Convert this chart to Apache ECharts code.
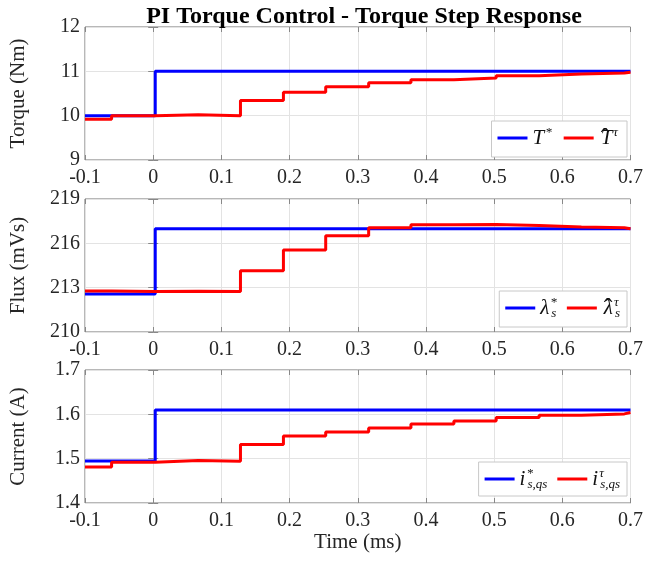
<!DOCTYPE html>
<html><head><meta charset="utf-8">
<script src="https://cdn.jsdelivr.net/npm/echarts@6/dist/echarts.min.js"></script>
<style>html,body{margin:0;padding:0;background:#fff}#c{width:646px;height:564px}</style>
</head><body><div id="c"></div>
<script>
// sample instants (ms) at which the discrete values change
const estTime = [-0.1, -0.061, 0.003, 0.066, 0.128, 0.191, 0.253, 0.316, 0.378, 0.441, 0.503, 0.566, 0.628, 0.691, 0.7];
const refTime = [-0.1, 0.003, 0.7];
const torqueRef = [10.0, 11.0, 11.0];
const torqueEst = [9.92, 10.0, 10.02, 10.0, 10.34, 10.53, 10.65, 10.74, 10.81, 10.85, 10.9, 10.94, 10.96, 10.98, 10.98];
const fluxRef = [212.57, 216.98, 216.98];
const fluxEst = [212.77, 212.74, 212.75, 212.74, 214.14, 215.55, 216.52, 217.05, 217.25, 217.27, 217.2, 217.1, 217.05, 216.98, 216.98];
const currentRef = [1.4946, 1.6100, 1.6100];
const currentEst = [1.481, 1.492, 1.496, 1.494, 1.532, 1.551, 1.560, 1.569, 1.578, 1.585, 1.593, 1.598, 1.601, 1.604, 1.604];
const xTicks = {min: -0.1, max: 0.7, interval: 0.1};
const yAxes = [
  {name: 'Torque (Nm)', min: 9, max: 12, interval: 1},
  {name: 'Flux (mVs)', min: 210, max: 219, interval: 3},
  {name: 'Current (A)', min: 1.4, max: 1.7, interval: 0.1}
];
const legendNames = [
  ['{it|T}{sup|*}', '{hat|\u02C6}{it|T}{sup|τ}'],
  ['{it|λ}{sup0|*}{sub|s}', '{hat|\u02C6}{it|λ}{sup0|τ}{sub|s}'],
  ['{it|i}{sup0|*}{sub|s,qs}', '{it|i}{sup0|τ}{sub|s,qs}']
];

const FONT = 'Liberation Serif';
const tops = [27, 199, 370];
const H = 133;
const legendTops = [121, 291, 462];
const legendRights = [19, 19, 19];

const chart = echarts.init(document.getElementById('c'), null, {renderer: 'canvas'});
const pairs = (t, v) => t.map((x, i) => [x, v[i]]);
const refs = [torqueRef, fluxRef, currentRef];
const ests = [torqueEst, fluxEst, currentEst];

const rich = {
  it: {fontFamily: FONT, fontStyle: 'italic', fontSize: 21, color: '#111', lineHeight: 24, verticalAlign: 'middle'},
  hat: {fontFamily: FONT, fontSize: 26, color: '#111', verticalAlign: 'top', lineHeight: 14, width: 0, padding: [0, 0, 0, 2]},
  sup: {fontFamily: FONT, fontStyle: 'italic', fontSize: 13, color: '#111', verticalAlign: 'top', lineHeight: 20, padding: [0, 2, 0, 1]},
  sup0: {fontFamily: FONT, fontStyle: 'italic', fontSize: 13, color: '#111', verticalAlign: 'top', lineHeight: 20, width: 0, padding: [0, 0, 0, 1]},
  sub: {fontFamily: FONT, fontStyle: 'italic', fontSize: 13, color: '#111', verticalAlign: 'bottom', lineHeight: 20, padding: [0, 0, 0, 1]}
};

const grid = [], xAxis = [], yAxis = [], series = [], legend = [];
const tickStyle = {show: true, inside: true, length: 5, lineStyle: {color: '#888', width: 1}};
for (let k = 0; k < 3; k++) {
  grid.push({left: 83, right: 12, top: tops[k], height: H, show: true, borderColor: '#707070', borderWidth: 1, backgroundColor: '#fff'});
  xAxis.push({
    type: 'value', gridIndex: k, min: xTicks.min, max: xTicks.max, interval: xTicks.interval,
    axisLine: {show: false}, axisTick: tickStyle,
    splitLine: {show: true, lineStyle: {color: '#e3e3e3', width: 1}},
    axisLabel: {fontFamily: FONT, fontSize: 20, color: '#262626', margin: 8,
      formatter: v => String(Math.round(v * 10) / 10)},
    name: k === 2 ? 'Time (ms)' : '', nameLocation: 'middle', nameGap: 25,
    nameTextStyle: {fontFamily: FONT, fontSize: 21, color: '#262626'}
  });
  xAxis.push({
    type: 'value', gridIndex: k, position: 'top', min: xTicks.min, max: xTicks.max, interval: xTicks.interval,
    axisLine: {show: false}, axisTick: tickStyle, splitLine: {show: false}, axisLabel: {show: false}
  });
  const ya = yAxes[k];
  yAxis.push({
    type: 'value', gridIndex: k, min: ya.min, max: ya.max, interval: ya.interval,
    axisLine: {show: false}, axisTick: tickStyle,
    splitLine: {show: true, lineStyle: {color: '#e3e3e3', width: 1}},
    axisLabel: {fontFamily: FONT, fontSize: 20, color: '#262626', margin: 5,
      formatter: v => k === 2 ? (Math.round(v * 10) / 10).toFixed(1) : String(Math.round(v))},
    name: ya.name, nameLocation: 'middle', nameGap: 56, nameRotate: 90,
    nameTextStyle: {fontFamily: FONT, fontSize: 21, color: '#262626'}
  });
  yAxis.push({
    type: 'value', gridIndex: k, position: 'right', min: ya.min, max: ya.max, interval: ya.interval,
    axisLine: {show: false}, axisTick: tickStyle, splitLine: {show: false}, axisLabel: {show: false}
  });
  const n1 = 'ref' + k, n2 = 'est' + k;
  series.push({
    name: n1, type: 'line', xAxisIndex: 2 * k, yAxisIndex: 2 * k, step: 'end', showSymbol: false,
    data: pairs(refTime, refs[k]), lineStyle: {color: '#0000ff', width: 3}, itemStyle: {color: '#0000ff'},
    z: 2, animation: false
  });
  series.push({
    name: n2, type: 'line', xAxisIndex: 2 * k, yAxisIndex: 2 * k, step: 'end', showSymbol: false,
    data: pairs(estTime, ests[k]), lineStyle: {color: '#ff0000', width: 3}, itemStyle: {color: '#ff0000'},
    z: 3, animation: false
  });
  const lab = {}; lab[n1] = legendNames[k][0]; lab[n2] = legendNames[k][1];
  legend.push({
    data: [n1, n2], right: legendRights[k], top: legendTops[k], orient: 'horizontal',
    icon: 'rect', itemWidth: 30, itemHeight: 3, itemGap: 10,
    backgroundColor: '#fff', borderColor: '#c8c8c8', borderWidth: 1, borderRadius: 0,
    padding: [5, 7, 5, 6], selectedMode: false,
    formatter: nm => lab[nm],
    textStyle: {fontFamily: FONT, fontSize: 21, color: '#111', rich: rich}
  });
}

chart.setOption({
  animation: false,
  backgroundColor: '#fff',
  title: {text: 'PI Torque Control - Torque Step Response', left: 359, top: 0, textAlign: 'center',
    textStyle: {fontFamily: FONT, fontSize: 24, fontWeight: 'bold', color: '#000'}},
  grid, xAxis, yAxis, series, legend
});
</script>
</body></html>
